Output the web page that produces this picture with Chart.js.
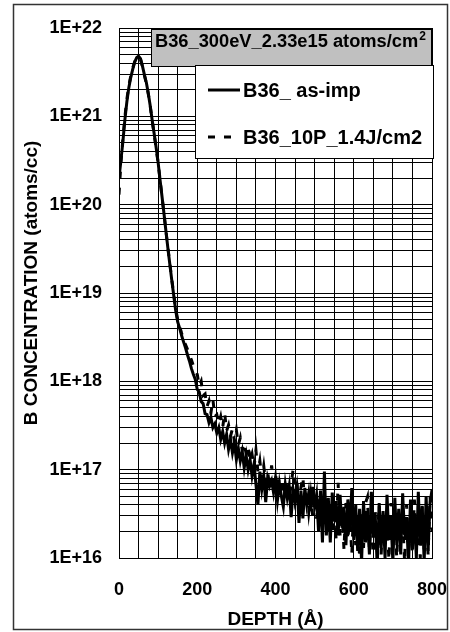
<!DOCTYPE html>
<html>
<head>
<meta charset="utf-8">
<script src="https://cdn.jsdelivr.net/npm/chart.js@4.4.0/dist/chart.umd.min.js"></script>
<style>
  body { margin: 0; background: #fff; }
  #wrap { width: 450px; height: 632px; position: relative; }
</style>
</head>
<body>
<div id="wrap"><canvas id="sims-chart"></canvas></div>
<script>
// SIMS depth profile, depth in Angstrom (5 A steps)
const depth = [
  0, 5, 10, 15, 20, 25, 30, 35, 40, 45,
  50, 55, 60, 65, 70, 75, 80, 85, 90, 95,
  100, 105, 110, 115, 120, 125, 130, 135, 140, 145,
  150, 155, 160, 165, 170, 175, 180, 185, 190, 195,
  200, 205, 210, 215, 220, 225, 230, 235, 240, 245,
  250, 255, 260, 265, 270, 275, 280, 285, 290, 295,
  300, 305, 310, 315, 320, 325, 330, 335, 340, 345,
  350, 355, 360, 365, 370, 375, 380, 385, 390, 395,
  400, 405, 410, 415, 420, 425, 430, 435, 440, 445,
  450, 455, 460, 465, 470, 475, 480, 485, 490, 495,
  500, 505, 510, 515, 520, 525, 530, 535, 540, 545,
  550, 555, 560, 565, 570, 575, 580, 585, 590, 595,
  600, 605, 610, 615, 620, 625, 630, 635, 640, 645,
  650, 655, 660, 665, 670, 675, 680, 685, 690, 695,
  700, 705, 710, 715, 720, 725, 730, 735, 740, 745,
  750, 755, 760, 765, 770, 775, 780, 785, 790, 795,
  800
];

// B36_ as-imp (atoms/cc)
const asImp = [
  2.0e20, 3.2e20, 5.2e20, 9.1e20, 1.45e21, 2.1e21, 2.75e21, 3.4e21, 4.1e21, 4.6e21,
  4.8e21, 4.5e21, 3.7e21, 2.95e21, 2.4e21, 1.8e21, 1.3e21, 8.9e20, 6.3e20, 4.4e20,
  3.0e20, 1.9e20, 1.23e20, 7.9e19, 5.0e19, 3.2e19, 2.1e19, 1.38e19, 9.3e18, 6.3e18,
  4.7e18, 4.0e18, 3.3e18, 2.8e18, 2.4e18, 2.0e18, 1.7e18, 1.4e18, 1.2e18, 1.05e18,
  8.1e17, 7.6e17, 5.9e17, 5.6e17, 4.3e17, 4.2e17, 3.4e17, 3.9e17, 3.0e17, 3.3e17,
  2.6e17, 3.0e17, 2.2e17, 2.7e17, 2.0e17, 2.5e17, 1.7e17, 2.2e17, 1.55e17, 2.0e17,
  1.3e17, 1.75e17, 1.25e17, 1.6e17, 1.05e17, 1.45e17, 1.0e17, 1.3e17, 8.5e16, 1.15e17,
  6.8e16, 4.0e16, 9.5e16, 6.0e16, 8.5e16, 4.3e16, 8.0e16, 6.5e16, 7.5e16, 5.5e16,
  8.0e16, 4.5e16, 7.0e16, 5.0e16, 3.8e16, 6.8e16, 4.8e16, 6.5e16, 2.9e16, 6.0e16,
  4.4e16, 7.0e16, 2.5e16, 5.8e16, 2.8e16, 6.2e16, 4.0e16, 5.5e16, 3.4e16, 6.4e16,
  3.8e16, 5.2e16, 2.0e16, 5.8e16, 1.5e16, 9.5e16, 1.8e16, 4.8e16, 1.5e16, 5.5e16,
  2.6e16, 4.4e16, 1.8e16, 5.2e16, 2.2e16, 3.8e16, 1.4e16, 4.6e16, 2.0e16, 6.2e16,
  1.6e16, 4.0e16, 1.2e16, 3.6e16, 9.0e15, 4.4e16, 1.5e16, 3.2e16, 1.1e16, 5.6e16,
  1.7e16, 3.0e16, 8.0e15, 4.2e16, 1.3e16, 3.4e16, 1.0e16, 5.2e16, 1.6e16, 2.8e16,
  9.0e15, 4.8e16, 1.4e16, 3.6e16, 1.1e16, 5.4e16, 1.8e16, 2.9e16, 8.0e15, 4.6e16,
  1.3e16, 3.2e16, 1.0e16, 5.6e16, 1.5e16, 3.9e16, 9.0e15, 5.0e16, 1.2e16, 4.2e16,
  5.9e16
];

// B36_10P_1.4J/cm2 (atoms/cc)
const laser = [
  1.3e20, 3.0e20, 5.6e20, 9.8e20, 1.55e21, 2.2e21, 2.85e21, 3.5e21, 4.15e21, 4.6e21,
  4.75e21, 4.4e21, 3.65e21, 2.9e21, 2.35e21, 1.78e21, 1.28e21, 8.8e20, 6.2e20, 4.35e20,
  2.95e20, 1.9e20, 1.22e20, 7.9e19, 5.0e19, 3.25e19, 2.15e19, 1.42e19, 9.6e18, 6.6e18,
  5.0e18, 4.2e18, 3.5e18, 3.0e18, 2.6e18, 2.3e18, 2.0e18, 1.75e18, 1.5e18, 1.3e18,
  1.2e18, 8.9e17, 1.0e18, 6.9e17, 7.2e17, 5.2e17, 6.0e17, 4.4e17, 6.2e17, 4.0e17,
  4.2e17, 3.3e17, 4.0e17, 3.0e17, 4.4e17, 2.75e17, 3.2e17, 2.4e17, 2.9e17, 2.1e17,
  2.8e17, 1.9e17, 2.3e17, 1.66e17, 2.0e17, 1.5e17, 1.8e17, 1.26e17, 1.5e17, 1.05e17,
  1.66e17, 9.5e16, 1.26e17, 7.9e16, 1.1e17, 7.1e16, 9.5e16, 6.3e16, 1.12e17, 7.1e16,
  8.9e16, 6.0e16, 8.3e16, 5.2e16, 7.6e16, 5.0e16, 7.2e16, 4.6e16, 6.9e16, 1.0e17,
  4.8e16, 6.6e16, 4.2e16, 6.3e16, 8.3e16, 3.8e16, 5.8e16, 3.3e16, 5.2e16, 3.0e16,
  5.0e16, 2.8e16, 4.6e16, 2.5e16, 4.8e16, 2.4e16, 4.4e16, 2.0e16, 4.0e16, 1.9e16,
  3.8e16, 1.6e16, 7.1e16, 1.8e16, 3.5e16, 1.26e16, 4.2e16, 1.6e16, 3.2e16, 1.1e16,
  3.8e16, 1.4e16, 3.0e16, 1.0e16, 3.5e16, 1.3e16, 4.2e16, 4.9e16, 1.26e16, 2.8e16,
  9.0e15, 3.3e16, 1.4e16, 4.0e16, 1.1e16, 3.0e16, 1.5e16, 2.5e16, 9.5e15, 4.2e16,
  1.3e16, 2.4e16, 1.0e16, 3.6e16, 1.6e16, 2.75e16, 9.0e15, 4.0e16, 1.4e16, 2.3e16,
  1.1e16, 4.6e16, 1.5e16, 2.5e16, 1.0e16, 3.8e16, 1.26e16, 2.9e16, 1.1e16, 5.0e16,
  2.0e16
];

const seriesNames = ['B36_ as-imp', 'B36_10P_1.4J/cm2'];
const yDecades = [1e16, 1e17, 1e18, 1e19, 1e20, 1e21, 1e22];
const yTickLabels = ['1E+16', '1E+17', '1E+18', '1E+19', '1E+20', '1E+21', '1E+22'];
const yMinorSteps = [2, 3, 4, 5, 6, 7, 8, 9];
const xTickLabels = [0, 200, 400, 600, 800];
const chartTitle = 'B36_300eV_2.33e15 atoms/cm';
const chartTitleSup = '2';
const xTitle = 'DEPTH (\u00C5)';
const yTitle = 'B CONCENTRATION (atoms/cc)';

const FONT = '"Liberation Sans", Arial, sans-serif';

// log grid: every decade plus 2..9 in between
const yGridTicks = [];
yDecades.forEach((d, i) => {
  yGridTicks.push({ value: d });
  if (i < yDecades.length - 1) yMinorSteps.forEach(m => yGridTicks.push({ value: d * m }));
});

const toPoints = arr => arr.map((v, i) => ({ x: depth[i], y: v }));

// title box, legend box, y title and outer frame
const decorPlugin = {
  id: 'decor',
  afterDraw(chart) {
    const ctx = chart.ctx;
    ctx.save();

    ctx.strokeStyle = '#333';
    ctx.lineWidth = 1.5;
    ctx.strokeRect(13.5, 4.5, 434, 625);

    // title box
    ctx.fillStyle = '#c0c0c0';
    ctx.fillRect(151, 29, 281, 38);
    ctx.strokeStyle = '#000';
    ctx.lineWidth = 1;
    ctx.strokeRect(151.5, 29.5, 280, 37);
    ctx.fillStyle = '#000';
    ctx.textAlign = 'left';
    ctx.textBaseline = 'alphabetic';
    ctx.font = 'bold 18.3px ' + FONT;
    ctx.fillText(chartTitle, 155, 47);
    const tw = ctx.measureText(chartTitle).width;
    ctx.font = 'bold 12px ' + FONT;
    ctx.fillText(chartTitleSup, 155 + tw + 1, 40);

    // legend box
    ctx.fillStyle = '#fff';
    ctx.fillRect(195, 65, 239, 94);
    ctx.strokeRect(195.5, 65.5, 238, 93);
    const rowY = [90, 137];
    chart.data.datasets.forEach((ds, i) => {
      ctx.beginPath();
      ctx.setLineDash(ds.borderDash || []);
      ctx.lineWidth = 3;
      ctx.strokeStyle = '#000';
      ctx.moveTo(208, rowY[i]);
      ctx.lineTo(240, rowY[i]);
      ctx.stroke();
      ctx.setLineDash([]);
      ctx.font = 'bold 20px ' + FONT;
      ctx.fillStyle = '#000';
      ctx.textBaseline = 'middle';
      ctx.fillText(ds.label, 243, rowY[i] + 1);
    });

    // y axis title
    ctx.translate(32, 283);
    ctx.rotate(-Math.PI / 2);
    ctx.textAlign = 'center';
    ctx.textBaseline = 'middle';
    ctx.font = 'bold 19px ' + FONT;
    ctx.fillText(yTitle, 0, 0);

    ctx.restore();
  }
};

new Chart(document.getElementById('sims-chart'), {
  type: 'line',
  data: {
    datasets: [
      {
        label: seriesNames[0],
        data: toPoints(asImp),
        borderColor: '#000',
        borderWidth: 3,
        pointRadius: 0,
        tension: 0,
        clip: 0
      },
      {
        label: seriesNames[1],
        data: toPoints(laser),
        borderColor: '#000',
        borderWidth: 3,
        borderDash: [7, 9],
        pointRadius: 0,
        tension: 0,
        clip: 0
      }
    ]
  },
  options: {
    responsive: true,
    maintainAspectRatio: false,
    animation: false,
    layout: { padding: { left: 13, top: 28, right: 18, bottom: 1 } },
    plugins: {
      legend: { display: false },
      tooltip: { enabled: false }
    },
    scales: {
      x: {
        type: 'linear',
        min: 0,
        max: 800,
        afterFit: s => { s.height = 73; s.paddingLeft = 0; s.paddingRight = 0; },
        ticks: {
          stepSize: 50,
          autoSkip: false,
          maxRotation: 0,
          padding: 21,
          color: '#000',
          font: { family: FONT, size: 18, weight: 'bold' },
          callback: v => (xTickLabels.includes(v) ? String(v) : '')
        },
        grid: { color: '#000', lineWidth: 1, drawTicks: false },
        border: { color: '#000', width: 1 },
        title: {
          display: true,
          text: xTitle,
          color: '#000',
          padding: { top: 0, bottom: 0 },
          font: { family: FONT, size: 19, weight: 'bold' }
        }
      },
      y: {
        type: 'logarithmic',
        min: 1e16,
        max: 1e22,
        afterFit: s => { s.width = 106; s.paddingTop = 0; s.paddingBottom = 0; },
        afterBuildTicks: s => { s.ticks = yGridTicks.map(t => ({ value: t.value })); },
        ticks: {
          autoSkip: false,
          padding: 17,
          color: '#000',
          font: { family: FONT, size: 18, weight: 'bold' },
          callback: v => {
            const k = yDecades.indexOf(v);
            return k >= 0 ? yTickLabels[k] : '';
          }
        },
        grid: { color: '#000', lineWidth: 1, drawTicks: false },
        border: { color: '#000', width: 1 }
      }
    }
  },
  plugins: [decorPlugin]
});
</script>
</body>
</html>
